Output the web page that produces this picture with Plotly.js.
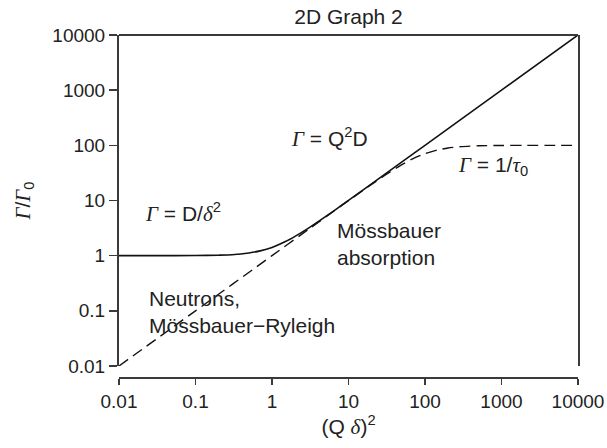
<!DOCTYPE html>
<html>
<head>
<meta charset="utf-8">
<script src="https://cdn.plot.ly/plotly-3.0.1.min.js"></script>
<style>html,body{margin:0;padding:0;background:#fff;}#chart{width:607px;height:448px;}</style>
</head>
<body>
<div id="chart"></div>
<script>
// Solid curve
const solidX = [0.01, 0.03, 0.1, 0.2, 0.3, 0.5, 0.7, 1, 1.5, 2, 3, 5, 7, 10, 20, 50, 100, 1000, 10000];
const solidY = [1, 1, 1.005, 1.02, 1.04, 1.12, 1.22, 1.41, 1.8, 2.24, 3.16, 5.1, 7.07, 10.05, 20, 50, 100, 1000, 10000];
// Dashed curve
const dashX = [0.01, 0.1, 1, 3, 5, 10, 20, 30, 50, 70, 100, 150, 200, 300, 500, 1000, 2000, 5000, 10000];
const dashY = [0.01, 0.1, 1, 3, 5, 9.95, 19.6, 28.7, 44.7, 57.4, 70.7, 83.2, 89.4, 94.9, 98.1, 99.5, 99.9, 100, 100];
// Tick labels
const tickVals = [0.01, 0.1, 1, 10, 100, 1000, 10000];
const tickText = ["0.01", "0.1", "1", "10", "100", "1000", "10000"];

const SERIF = 'font-family:Liberation Serif,DejaVu Serif,serif;font-style:italic';
const G = '<span style="' + SERIF + '">Γ</span>';
const dl = '<span style="' + SERIF + '">δ</span>';
const ta = '<span style="' + SERIF + '">τ</span>';

const txtColor = '#222';
const axColor = '#3a3a3a';
const FONT = 'Liberation Sans, Arial, sans-serif';
const BIG = 21;

const traces = [
  {x: solidX, y: solidY, mode: 'lines', line: {color: '#111', width: 1.6, shape: 'spline', smoothing: 0.6}, hoverinfo: 'skip', showlegend: false},
  {x: dashX, y: dashY, mode: 'lines', line: {color: '#111', width: 1.4, dash: '11px,6px', shape: 'spline', smoothing: 0.6}, hoverinfo: 'skip', showlegend: false}
];

const layout = {
  width: 607, height: 448,
  margin: {l: 119, r: 29, t: 35, b: 70, pad: 0},
  paper_bgcolor: '#fff', plot_bgcolor: '#fff',
  font: {family: FONT, size: BIG, color: txtColor},
  title: {text: '2D Graph 2', font: {family: FONT, size: BIG, color: txtColor}, x: 0.5, xref: 'paper', xanchor: 'center', y: 1 - 17/448, yref: 'container', yanchor: 'middle'},
  showlegend: false,
  xaxis: {
    type: 'log', range: [-2, 4], anchor: 'free', position: 0,
    showgrid: false, zeroline: false, showline: true, linecolor: axColor, linewidth: 2,
    ticks: 'outside', ticklen: 6, tickwidth: 1.5, tickcolor: axColor,
    tickvals: tickVals, ticktext: tickText, tickfont: {family: FONT, size: 19, color: txtColor},
    title: {text: '(Q ' + dl + ')<sup>2</sup>', font: {family: FONT, size: BIG, color: txtColor}, standoff: 6}
  },
  yaxis: {
    type: 'log', range: [-2, 4], domain: [12/343, 1],
    showgrid: false, zeroline: false, showline: true, linecolor: axColor, linewidth: 2, mirror: true,
    ticks: 'outside', ticklen: 8, tickwidth: 1.5, tickcolor: axColor,
    tickvals: tickVals, ticktext: tickText, tickfont: {family: FONT, size: 19, color: txtColor},
    title: {text: G + '/' + G + '<sub>0</sub>', font: {family: FONT, size: BIG, color: txtColor}, standoff: 16}
  },
  shapes: [
    {type: 'line', xref: 'paper', yref: 'paper', x0: 0, x1: 1, y0: 1, y1: 1, line: {color: axColor, width: 2}}
  ],
  annotations: [
    {x: -1.68, y: 0.79, xref: 'x', yref: 'y', text: G + ' = D/' + dl + '<sup>2</sup>', showarrow: false, xanchor: 'left', yanchor: 'middle'},
    {x: 0.22, y: 2.15, xref: 'x', yref: 'y', text: G + ' = Q<sup>2</sup>D', showarrow: false, xanchor: 'left', yanchor: 'middle'},
    {x: 2.40, y: 1.625, xref: 'x', yref: 'y', text: G + ' = 1/' + ta + '<sub>0</sub>', showarrow: false, xanchor: 'left', yanchor: 'middle'},
    {x: 0.82, y: 0.21, xref: 'x', yref: 'y', text: 'Mössbauer<br>absorption', showarrow: false, xanchor: 'left', yanchor: 'middle', align: 'left'},
    {x: -1.64, y: -1.02, xref: 'x', yref: 'y', text: 'Neutrons,<br>Mössbauer−Ryleigh', showarrow: false, xanchor: 'left', yanchor: 'middle', align: 'left'}
  ]
};

Plotly.newPlot('chart', traces, layout, {staticPlot: true, displayModeBar: false});
</script>
</body>
</html>
